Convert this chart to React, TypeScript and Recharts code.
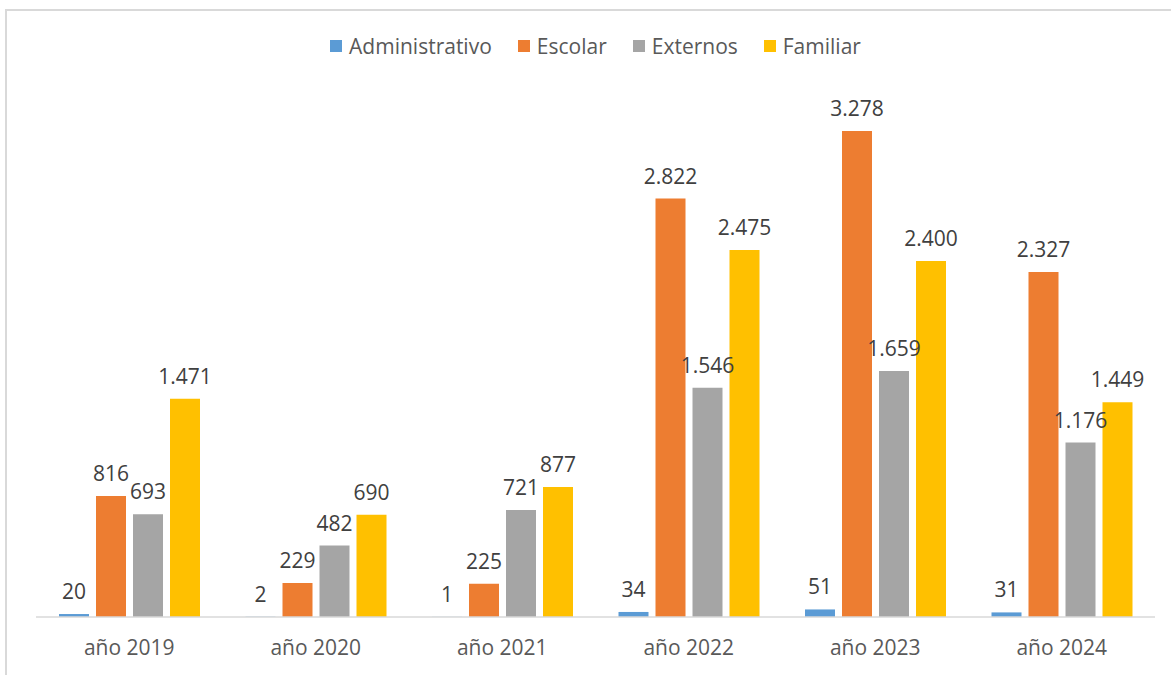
import { Bar, BarChart, LabelList, XAxis, YAxis } from "recharts";

const years = ["año 2019", "año 2020", "año 2021", "año 2022", "año 2023", "año 2024"];
const administrativo = [20, 2, 1, 34, 51, 31];
const escolar = [816, 229, 225, 2822, 3278, 2327];
const externos = [693, 482, 721, 1546, 1659, 1176];
const familiar = [1471, 690, 877, 2475, 2400, 1449];

const SERIES = [
  { key: "administrativo", name: "Administrativo", color: "#5B9BD5" },
  { key: "escolar", name: "Escolar", color: "#ED7D31" },
  { key: "externos", name: "Externos", color: "#A5A5A5" },
  { key: "familiar", name: "Familiar", color: "#FFC000" },
];

const data = years.map((year, i) => ({
  year,
  administrativo: administrativo[i],
  escolar: escolar[i],
  externos: externos[i],
  familiar: familiar[i],
}));

// separador de miles con punto (3.278)
const fmt = (v: unknown) => String(v).replace(/\B(?=(\d{3})+(?!\d))/g, ".");

const FONT = "'Open Sans', sans-serif";

export default function App() {
  return (
    <div
      style={{
        position: "fixed",
        left: 0,
        top: 0,
        width: 1171,
        height: 675,
        overflow: "hidden",
        background: "#fff",
        fontFamily: FONT,
      }}
    >
      <div
        style={{
          position: "absolute",
          left: 5,
          top: 9,
          width: 1300,
          height: 800,
          borderLeft: "2px solid #d9d9d9",
          borderTop: "2px solid #d9d9d9",
        }}
      />
      <div
        style={{
          position: "absolute",
          left: 36,
          width: 1119,
          top: 32,
          display: "flex",
          justifyContent: "center",
          gap: 26,
          fontSize: 21,
          color: "#595959",
        }}
      >
        {SERIES.map((s) => (
          <LegendItem key={s.key} color={s.color} label={s.name} />
        ))}
      </div>
      <div style={{ position: "absolute", left: 0, top: 0 }}>
        <BarChart
          width={1171}
          height={675}
          data={data}
          margin={{ top: 98, right: 16, bottom: 0, left: 36 }}
          barSize={30}
          barGap={7}
        >
          <XAxis
            dataKey="year"
            height={58}
            tickLine={false}
            tickMargin={17}
            axisLine={{ stroke: "#d9d9d9", strokeWidth: 1.5 }}
            tick={{ fill: "#595959", fontSize: 21, fontFamily: FONT }}
          />
          <YAxis hide domain={[0, 3500]} />
          {SERIES.map((s) => (
            <Bar key={s.key} dataKey={s.key} name={s.name} fill={s.color} isAnimationActive={false}>
              <LabelList
                dataKey={s.key}
                position="top"
                offset={15}
                formatter={fmt}
                style={{ fill: "#404040", fontSize: 21, fontFamily: FONT }}
              />
            </Bar>
          ))}
        </BarChart>
      </div>
    </div>
  );
}

function LegendItem({ color, label }: { color: string; label: string }) {
  return (
    <span style={{ display: "flex", alignItems: "center", gap: 7 }}>
      <span style={{ display: "inline-block", width: 12, height: 12, background: color }} />
      {label}
    </span>
  );
}
